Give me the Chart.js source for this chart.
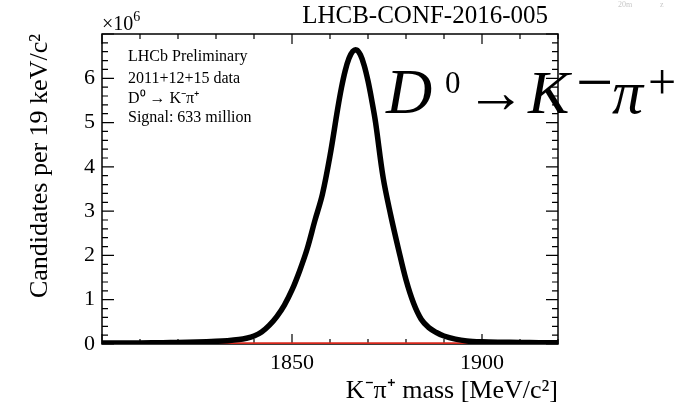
<!DOCTYPE html>
<html lang="en">
<head>
  <meta charset="UTF-8" />
  <title>D0 -> K- pi+ mass</title>
  <script src="https://cdn.jsdelivr.net/npm/chart.js"></script>
  <style>
    body { margin: 0; background: #fff; }
    #wrap { width: 678px; height: 409px; position: relative; }
  </style>
</head>

<body>
  <div id="wrap"><canvas id="myChart"></canvas></div>

  <script>
    /* values */
    // K- pi+ invariant mass [MeV/c2]
    const mass = [1800, 1805, 1810, 1816, 1820, 1825, 1830, 1833, 1836, 1838, 1840, 1842, 1844, 1846, 1848,
      1850, 1852, 1854, 1856, 1858, 1860, 1862, 1863, 1864, 1865, 1866, 1867, 1868, 1869, 1870, 1871, 1872,
      1874, 1876, 1878, 1880, 1882, 1884, 1886, 1888, 1890, 1893, 1896, 1900, 1905, 1910, 1915, 1920];
    // total fit, in 10^6 candidates per 19 keV/c2
    const total = [0.02, 0.022, 0.025, 0.03, 0.035, 0.045, 0.06, 0.075, 0.1, 0.13, 0.18, 0.27, 0.42, 0.62, 0.88,
      1.22, 1.65, 2.15, 2.78, 3.38, 4.25, 5.3, 5.78, 6.17, 6.45, 6.61, 6.64, 6.53, 6.29, 5.94, 5.5, 5.0,
      3.75, 2.9, 2.15, 1.45, 0.92, 0.56, 0.37, 0.26, 0.18, 0.11, 0.07, 0.05, 0.04, 0.035, 0.03, 0.03];
    // background component, flat near zero
    const bkgMass = [1800, 1920];
    const bkg = [0.004, 0.004];
    // labelled ticks
    const xTickLabels = [1850, 1900];
    const yTickLabels = [0, 1, 2, 3, 4, 5, 6];

    const serif = '"Liberation Serif", "Times New Roman", serif';

    /* frame with inward ticks on all four sides */
    const frame = {
      id: "frame",
      beforeDatasetsDraw(chart) {
        const { ctx, chartArea: a, scales: { x, y } } = chart;
        ctx.save();
        ctx.strokeStyle = "#000";
        ctx.lineWidth = 1.5;
        ctx.strokeRect(a.left, a.top, a.right - a.left, a.bottom - a.top);
        ctx.lineWidth = 1.2;
        ctx.beginPath();
        for (let v = x.min; v <= x.max; v += 10) {
          const px = x.getPixelForValue(v);
          const len = v % 50 === 0 ? 10 : 5;
          ctx.moveTo(px, a.bottom); ctx.lineTo(px, a.bottom - len);
          ctx.moveTo(px, a.top); ctx.lineTo(px, a.top + len);
        }
        for (let i = 0; i <= 35; i++) {
          const py = y.getPixelForValue(i / 5);
          const len = i % 5 === 0 ? 12 : 6;
          ctx.moveTo(a.left, py); ctx.lineTo(a.left + len, py);
          ctx.moveTo(a.right, py); ctx.lineTo(a.right - len, py);
        }
        ctx.stroke();
        ctx.restore();
      },
    };

    /* the text labels on the figure */
    const labels = {
      id: "labels",
      afterDraw(chart) {
        const ctx = chart.ctx;
        const a = chart.chartArea;
        ctx.save();
        ctx.fillStyle = "#000";
        ctx.textBaseline = "alphabetic";

        // exponent above the y axis
        ctx.font = "20px " + serif;
        ctx.fillText("\u00d710", a.left, 30);
        const w = ctx.measureText("\u00d710").width;
        ctx.font = "14px " + serif;
        ctx.fillText("6", a.left + w, 21);

        // conference note id
        ctx.font = "25px " + serif;
        ctx.textAlign = "right";
        ctx.fillText("LHCB-CONF-2016-005", 548, 23);
        ctx.textAlign = "left";

        // legend box
        ctx.font = "16px " + serif;
        ctx.fillText("LHCb Preliminary", 128, 61);
        ctx.fillText("2011+12+15 data", 128, 83);
        ctx.fillText("D\u2070 \u2192 K\u207b\u03c0\u207a", 128, 103);
        ctx.fillText("Signal: 633 million", 128, 122);

        // big decay label
        ctx.font = "italic 64px " + serif;
        ctx.fillText("D", 386, 113);
        const dw = ctx.measureText("D").width;
        ctx.font = "31px " + serif;
        ctx.fillText("0", Math.max(386 + dw + 4, 445), 93);
        ctx.font = "60px " + serif;
        ctx.fillText("\u2192", 466, 112);
        ctx.font = "italic 62px " + serif;
        ctx.fillText("K", 528, 113);
        ctx.font = "66px " + serif;
        ctx.fillText("\u2212", 576, 104);
        ctx.font = "italic 62px " + serif;
        ctx.fillText("\u03c0", 612, 113);
        ctx.font = "50px " + serif;
        ctx.fillText("+", 648, 99);

        // faint scan residue in the corner
        ctx.fillStyle = "#c8c8c8";
        ctx.font = "8px " + serif;
        ctx.fillText("20m", 618, 7);
        ctx.fillText("z", 660, 7);
        ctx.restore();
      },
    };

    const ctx = document.getElementById("myChart").getContext("2d");
    const chart = new Chart(ctx, {
      type: "line",
      data: {
        datasets: [
          {
            label: "total",
            data: mass.map((m, i) => ({ x: m, y: total[i] })),
            borderColor: "#000",
            borderWidth: 5.5,
            pointRadius: 0,
            tension: 0.35,
            fill: false,
            order: 0,
          },
          {
            label: "background",
            data: bkgMass.map((m, i) => ({ x: m, y: bkg[i] })),
            borderColor: "#d8281c",
            borderWidth: 3,
            pointRadius: 0,
            fill: false,
            order: 1,
          },
        ],
      },
      options: {
        animation: false,
        responsive: true,
        maintainAspectRatio: false,
        layout: { padding: { left: 0, top: 34, right: 120, bottom: 0 } },
        plugins: { legend: { display: false }, tooltip: { enabled: false } },
        scales: {
          x: {
            type: "linear",
            min: 1800,
            max: 1920,
            grid: { display: false, drawTicks: false },
            border: { display: false },
            ticks: {
              stepSize: 50,
              padding: 6,
              color: "#000",
              font: { family: serif, size: 22 },
              maxRotation: 0,
              callback: (v) => (xTickLabels.includes(v) ? String(v) : ""),
            },
            title: {
              display: true,
              text: "K\u207b\u03c0\u207a mass [MeV/c\u00b2]",
              align: "end",
              color: "#000",
              font: { family: serif, size: 26 },
              padding: { top: 0, bottom: 2 },
            },
            afterFit: (s) => { s.height = 65; },
          },
          y: {
            min: 0,
            max: 7,
            grid: { display: false, drawTicks: false },
            border: { display: false },
            ticks: {
              stepSize: 1,
              padding: 7,
              color: "#000",
              font: { family: serif, size: 22 },
              callback: (v) => (yTickLabels.includes(v) ? String(v) : ""),
            },
            title: {
              display: true,
              text: "Candidates per 19 keV/c\u00b2",
              align: "end",
              color: "#000",
              font: { family: serif, size: 26 },
              padding: { top: 25, bottom: 0 },
            },
            afterFit: (s) => { s.width = 102; },
          },
        },
      },
      plugins: [frame, labels],
    });
  </script>
</body>

</html>
